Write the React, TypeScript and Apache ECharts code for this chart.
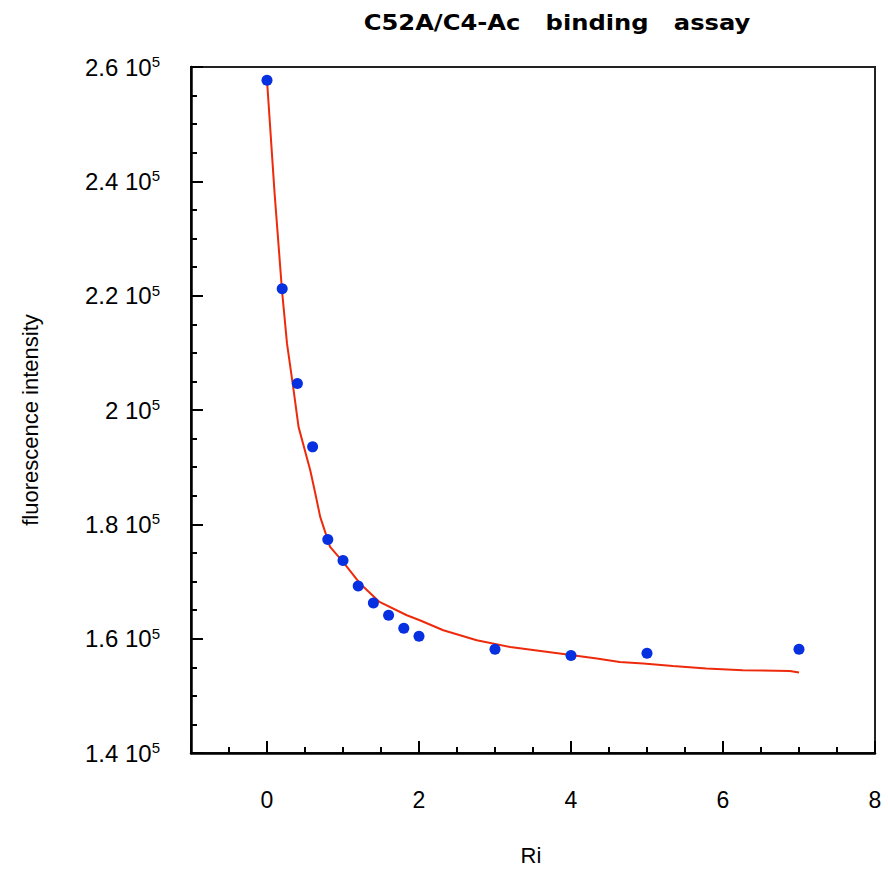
import React, { useEffect, useRef } from "react";
import * as echarts from "echarts";

const titleText = "C52A/C4-Ac   binding   assay";
const xName = "Ri";
const yName = "fluorescence intensity";

const pointX = [0, 0.2, 0.4, 0.6, 0.8, 1.0, 1.2, 1.4, 1.6, 1.8, 2.0, 3, 4, 5, 7];
const pointY = [257700, 221200, 204650, 193550, 177350, 173675, 169225, 166250, 164100, 161825, 160425, 158150, 157050, 157450, 158150];

const fitX = [0, 0.1, 0.197, 0.263, 0.35, 0.415, 0.569, 0.635, 0.7, 0.83, 1.0, 1.22, 1.48, 1.84, 2.01, 2.32, 2.76, 3.2, 3.85, 4.34, 4.64, 4.95, 5.34, 5.78, 6.26, 6.88, 7.0];
const fitY = [257725, 237900, 220975, 211650, 203475, 197050, 189475, 185450, 181300, 176050, 173430, 169700, 166430, 164100, 163225, 161475, 159725, 158550, 157400, 156525, 155925, 155650, 155225, 154775, 154475, 154350, 154075];

const xMin = -1;
const xMax = 8;
const yMin = 140000;
const yMax = 260000;
const yStep = 20000;

export default function App() {
  const ref = useRef<HTMLDivElement>(null);
  useEffect(() => {
    document.body.style.margin = "0";
    const chart = echarts.init(ref.current!, undefined, { renderer: "svg" });
    const font = "Liberation Sans";
    chart.setOption({
      animation: false,
      backgroundColor: "#fff",
      grid: { left: 191, right: 13, top: 67, bottom: 122, show: true, borderColor: "#222", borderWidth: 2 },
      graphic: [
        {
          type: "text",
          x: 557,
          y: 22,
          scaleX: 1.1,
          style: { text: titleText, fontFamily: "DejaVu Sans", fontWeight: "bold", fontSize: 22, fill: "#000", textAlign: "center", textVerticalAlign: "middle" },
        },
        {
          type: "text",
          x: 531,
          y: 855,
          style: { text: xName, fontFamily: font, fontSize: 22, fill: "#000", textAlign: "center", textVerticalAlign: "middle" },
        },
        {
          type: "text",
          x: 30,
          y: 420,
          rotation: Math.PI / 2,
          style: { text: yName, fontFamily: font, fontSize: 22, fill: "#000", textAlign: "center", textVerticalAlign: "middle" },
        },
      ],
      xAxis: [
        {
          type: "value",
          min: xMin,
          max: xMax,
          splitNumber: 5,
          splitLine: { show: false },
          axisLine: { show: true, onZero: false, lineStyle: { color: "#000", width: 2.5 } },
          axisTick: { show: true, inside: true, length: 12, lineStyle: { color: "#000", width: 2 } },
          axisLabel: {
            margin: 35,
            fontSize: 23,
            fontFamily: font,
            color: "#000",
            formatter: (v: number) => (v === xMin ? "" : String(v)),
          },
        },
        {
          type: "value",
          min: xMin,
          max: xMax,
          interval: 0.5,
          position: "bottom",
          splitLine: { show: false },
          axisLine: { show: false, onZero: false },
          axisTick: { show: true, inside: true, length: 6, lineStyle: { color: "#000", width: 2 } },
          axisLabel: { show: false },
        },
      ],
      yAxis: {
        type: "value",
        min: yMin,
        max: yMax,
        interval: yStep,
        splitLine: { show: false },
        axisLine: { show: true, onZero: false, lineStyle: { color: "#000", width: 2.5 } },
        axisTick: { show: true, inside: true, length: 12, lineStyle: { color: "#000", width: 2 } },
        minorTick: { show: true, splitNumber: 4, length: 6, lineStyle: { color: "#000", width: 2 } },
        axisLabel: {
          margin: 31,
          color: "#000",
          formatter: (v: number) => `{a|${Number((v / 1e5).toFixed(1))} 10}{s|5}`,
          rich: {
            a: { fontSize: 24, fontFamily: font, color: "#000", lineHeight: 26 },
            s: { fontSize: 15, fontFamily: font, color: "#000", verticalAlign: "top", lineHeight: 26, padding: [0, 0, 12, 0] },
          },
        },
      },
      series: [
        {
          type: "line",
          xAxisIndex: 0,
          data: fitX.map((x, i) => [x, fitY[i]]),
          showSymbol: false,
          symbol: "none",
          lineStyle: { color: "#ee2a0c", width: 2 },
          z: 2,
        },
        {
          type: "scatter",
          xAxisIndex: 0,
          data: pointX.map((x, i) => [x, pointY[i]]),
          symbol: "circle",
          symbolSize: 11,
          itemStyle: { color: "#0630e0", opacity: 1 },
          z: 3,
        },
      ],
    });
    return () => chart.dispose();
  }, []);
  return <div ref={ref} style={{ width: 888, height: 875 }} />;
}
